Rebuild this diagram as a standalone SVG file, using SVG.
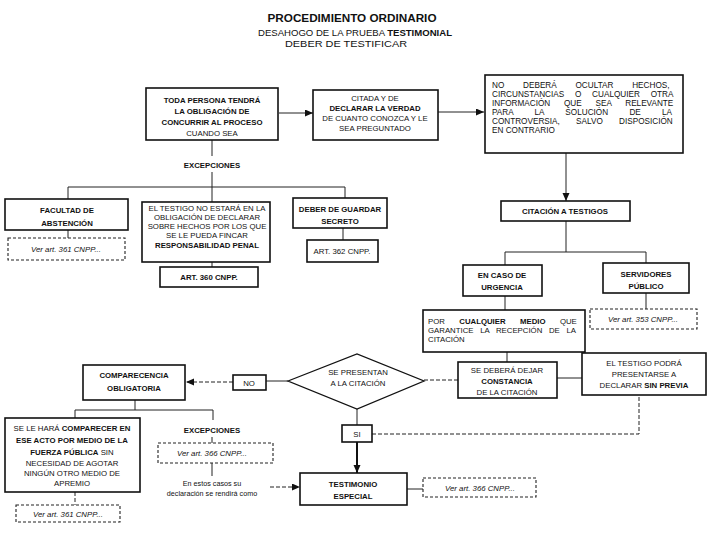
<svg xmlns="http://www.w3.org/2000/svg" width="720" height="540" viewBox="0 0 720 540">
<style>
.b{fill:#fff;stroke:#111;stroke-width:1.6}
.d{fill:#fff;stroke:#222;stroke-width:1.1;stroke-dasharray:3 2}
.c{fill:none;stroke:#222;stroke-width:1}
.cd{fill:none;stroke:#222;stroke-width:1;stroke-dasharray:4 2}
text{font-family:"Liberation Sans",Arial,sans-serif;fill:#111}
.t{font-size:7.8px}
.tb{font-size:7.8px;font-weight:bold}
.ti{font-size:7.8px;font-style:italic}
.j{font-size:8.2px}
.m{text-anchor:middle}
.bo{font-weight:bold}
</style>
<defs>
<marker id="ah" markerUnits="userSpaceOnUse" markerWidth="9" markerHeight="8" refX="8" refY="3.5" orient="auto"><path d="M0,0 L8,3.5 L0,7 z" fill="#111"/></marker>
</defs>
<rect width="720" height="540" fill="#fff"/>

<g id="title">
<text x="352" y="22" class="m" style="font-size:11.7px;font-weight:bold" textLength="169" lengthAdjust="spacingAndGlyphs">PROCEDIMIENTO ORDINARIO</text>
<text x="355" y="36" class="m" style="font-size:9.5px" textLength="194" lengthAdjust="spacingAndGlyphs">DESAHOGO DE LA PRUEBA <tspan class="bo">TESTIMONIAL</tspan></text>
<text x="346" y="47" class="m" style="font-size:9.5px" textLength="122" lengthAdjust="spacingAndGlyphs">DEBER DE TESTIFICAR</text>
</g>

<g id="connectors">
<line class="c" x1="279" y1="113" x2="313" y2="113" marker-end="url(#ah)"/>
<line class="c" x1="438" y1="112" x2="484" y2="112" marker-end="url(#ah)"/>
<line class="c" x1="566" y1="153" x2="566" y2="201" marker-end="url(#ah)"/>
<line class="c" x1="212" y1="140" x2="212" y2="156"/>
<polyline class="c" points="212,172 212,187"/>
<polyline class="c" points="68,199 68,187 345,187 345,198"/>
<line class="c" x1="212" y1="187" x2="212" y2="202"/>
<line class="c" x1="68" y1="230" x2="68" y2="238"/>
<line class="c" x1="212" y1="262" x2="212" y2="267"/>
<line class="c" x1="343" y1="228" x2="343" y2="240"/>
<line class="c" x1="566" y1="221" x2="566" y2="252"/>
<polyline class="c" points="505,265 505,252 646,252 646,263"/>
<line class="c" x1="646" y1="293" x2="646" y2="309"/>
<line class="c" x1="505" y1="296" x2="505" y2="310"/>
<line class="c" x1="507" y1="352" x2="507" y2="362"/>
<line class="c" x1="557" y1="378" x2="582" y2="378"/>
<line class="cd" x1="424" y1="380" x2="458" y2="380"/>
<line class="c" x1="266" y1="381" x2="288" y2="381"/>
<line class="cd" x1="233" y1="382" x2="186" y2="382" marker-end="url(#ah)"/>
<line class="c" x1="357" y1="409" x2="357" y2="425"/>
<polyline class="cd" points="372,434 639,434 639,395"/>
<line x1="357" y1="442" x2="357" y2="473" stroke="#111" stroke-width="2" marker-end="url(#ah)"/>
<polyline class="c" points="135,400 135,410"/>
<polyline class="c" points="75,418 75,410 213,410 213,420"/>
<line class="cd" x1="75" y1="492" x2="75" y2="505"/>
<line class="c" x1="212" y1="437" x2="212" y2="443"/>
<line class="c" x1="212" y1="463" x2="212" y2="476"/>
<line class="cd" x1="270" y1="487" x2="300" y2="487" marker-end="url(#ah)"/>
<line class="c" x1="407" y1="489" x2="423" y2="489"/>
</g>

<g id="n-toda">
<rect class="b" x="146" y="88" width="132" height="52"/>
<text class="tb m" x="212" y="103">TODA PERSONA TENDRÁ</text>
<text class="tb m" x="212" y="114">LA OBLIGACIÓN DE</text>
<text class="tb m" x="212" y="125">CONCURRIR AL PROCESO</text>
<text class="t m" x="212" y="136">CUANDO SEA</text>
</g>

<g id="n-citada">
<rect class="b" x="313" y="90" width="125" height="50"/>
<text class="t m" x="375" y="101">CITADA Y DE</text>
<text class="tb m" x="375" y="111">DECLARAR LA VERDAD</text>
<text class="t m" x="375" y="121">DE CUANTO CONOZCA Y LE</text>
<text class="t m" x="375" y="131">SEA PREGUNTADO</text>
</g>

<g id="n-ocultar">
<rect class="b" x="485" y="75" width="198" height="78"/>
<text class="j" x="492" y="88" word-spacing="16.5">NO DEBERÁ OCULTAR HECHOS,</text>
<text class="j" x="492" y="97" word-spacing="8.5">CIRCUNSTANCIAS O CUALQUIER OTRA</text>
<text class="j" x="492" y="106" word-spacing="11.5">INFORMACIÓN QUE SEA RELEVANTE</text>
<text class="j" x="492" y="115" word-spacing="19">PARA LA SOLUCIÓN DE LA</text>
<text class="j" x="492" y="124" word-spacing="14">CONTROVERSIA, SALVO DISPOSICIÓN</text>
<text class="j" x="492" y="133">EN CONTRARIO</text>
</g>

<g id="n-excep1">
<text class="tb m" x="212" y="168">EXCEPCIONES</text>
</g>

<g id="n-facultad">
<rect class="b" x="5" y="199" width="123" height="31"/>
<text class="tb m" x="67" y="213">FACULTAD DE</text>
<text class="tb m" x="67" y="226">ABSTENCIÓN</text>
</g>
<g id="n-ver361a">
<rect class="d" x="8" y="238" width="117" height="22"/>
<text class="ti m" x="66" y="252">Ver art. 361 CNPP...</text>
</g>

<g id="n-testigo-no">
<rect class="b" x="142" y="202" width="128" height="60"/>
<text class="t m" x="207" y="211">EL TESTIGO NO ESTARÁ EN LA</text>
<text class="t m" x="207" y="220">OBLIGACIÓN DE DECLARAR</text>
<text class="t m" x="207" y="229">SOBRE HECHOS POR LOS QUE</text>
<text class="t m" x="207" y="238">SE LE PUEDA FINCAR</text>
<text class="tb m" x="207" y="248">RESPONSABILIDAD PENAL</text>
</g>
<g id="n-art360">
<rect class="b" x="160" y="267" width="98" height="20"/>
<text class="tb m" x="209" y="280">ART. 360 CNPP.</text>
</g>

<g id="n-secreto">
<rect class="b" x="293" y="198" width="94" height="30"/>
<text class="tb m" x="340" y="212">DEBER DE GUARDAR</text>
<text class="tb m" x="340" y="224">SECRETO</text>
</g>
<g id="n-art362">
<rect class="b" x="307" y="240" width="71" height="22"/>
<text class="t m" x="342" y="254">ART. 362 CNPP.</text>
</g>

<g id="n-citacion">
<rect class="b" x="501" y="201" width="129" height="20"/>
<text class="tb m" x="565" y="214">CITACIÓN A TESTIGOS</text>
</g>

<g id="n-urgencia">
<rect class="b" x="463" y="265" width="79" height="31"/>
<text class="tb m" x="502" y="278">EN CASO DE</text>
<text class="tb m" x="502" y="290">URGENCIA</text>
</g>

<g id="n-servidores">
<rect class="b" x="603" y="263" width="86" height="30"/>
<text class="tb m" x="646" y="277">SERVIDORES</text>
<text class="tb m" x="646" y="289">PÚBLICO</text>
</g>
<g id="n-ver353">
<rect class="d" x="590" y="309" width="107" height="20"/>
<text class="ti m" x="643" y="322">Ver art. 353 CNPP...</text>
</g>

<g id="n-medio">
<rect class="b" x="423" y="310" width="162" height="42"/>
<text class="t" x="428" y="324" word-spacing="12.2">POR <tspan class="bo">CUALQUIER</tspan> <tspan class="bo">MEDIO</tspan> QUE</text>
<text class="t" x="428" y="333" word-spacing="4.5">GARANTICE LA RECEPCIÓN DE LA</text>
<text class="t" x="428" y="342">CITACIÓN</text>
</g>

<g id="n-constancia">
<rect class="b" x="458" y="362" width="99" height="36"/>
<text class="t m" x="507" y="373">SE DEBERÁ DEJAR</text>
<text class="tb m" x="507" y="384">CONSTANCIA</text>
<text class="t m" x="507" y="395">DE LA CITACIÓN</text>
</g>

<g id="n-sinprevia">
<rect class="b" x="582" y="353" width="124" height="42"/>
<text class="t m" x="644" y="366">EL TESTIGO PODRÁ</text>
<text class="t m" x="644" y="377">PRESENTARSE A</text>
<text class="t m" x="644" y="388">DECLARAR <tspan class="bo">SIN PREVIA</tspan></text>
</g>

<g id="n-presentan">
<polygon points="288,381 357,354 424,381 357,409" fill="#fff" stroke="#111" stroke-width="1.3"/>
<text class="t m" x="358" y="375">SE PRESENTAN</text>
<text class="t m" x="358" y="386">A LA CITACIÓN</text>
</g>

<g id="n-no">
<rect class="b" x="233" y="375" width="33" height="15"/>
<text class="t m" x="249" y="386">NO</text>
</g>

<g id="n-comparecencia">
<rect class="b" x="83" y="365" width="102" height="35"/>
<text class="tb m" x="134" y="378">COMPARECENCIA</text>
<text class="tb m" x="134" y="391">OBLIGATORIA</text>
</g>

<g id="n-fuerza">
<rect class="b" x="5" y="418" width="135" height="74"/>
<text class="t m" x="72" y="431">SE LE HARÁ <tspan class="bo">COMPARECER EN</tspan></text>
<text class="tb m" x="72" y="443">ESE ACTO POR MEDIO DE LA</text>
<text class="t m" x="72" y="455"><tspan class="bo">FUERZA PÚBLICA</tspan> SIN</text>
<text class="t m" x="72" y="466">NECESIDAD DE AGOTAR</text>
<text class="t m" x="72" y="476">NINGÚN OTRO MEDIO DE</text>
<text class="t m" x="72" y="486">APREMIO</text>
</g>
<g id="n-ver361b">
<rect class="d" x="16" y="505" width="104" height="17"/>
<text class="ti m" x="68" y="517">Ver art. 361 CNPP...</text>
</g>

<g id="n-excep2">
<text class="tb m" x="212" y="433">EXCEPCIONES</text>
</g>
<g id="n-ver366a">
<rect class="d" x="158" y="443" width="115" height="20"/>
<text class="ti m" x="212" y="456">Ver art. 366 CNPP...</text>
</g>
<g id="n-estos">
<text class="t m" x="212" y="486" style="font-size:7.2px">En estos casos su</text>
<text class="t m" x="212" y="496" style="font-size:7.2px">declaración se rendirá como</text>
</g>

<g id="n-si">
<rect class="b" x="342" y="425" width="30" height="17"/>
<text class="t m" x="357" y="437">SI</text>
</g>

<g id="n-testimonio">
<rect class="b" x="300" y="473" width="107" height="32"/>
<text class="tb m" x="353" y="487">TESTIMONIO</text>
<text class="tb m" x="353" y="499">ESPECIAL</text>
</g>
<g id="n-ver366b">
<rect class="d" x="423" y="478" width="113" height="19"/>
<text class="ti m" x="480" y="491">Ver art. 366 CNPP...</text>
</g>
</svg>
